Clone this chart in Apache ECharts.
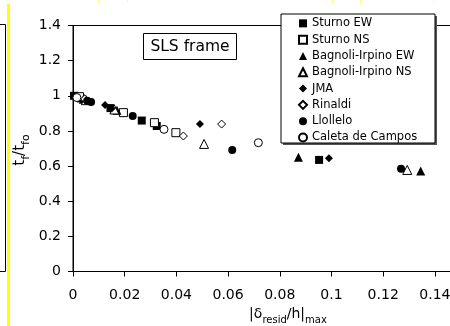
<!DOCTYPE html>
<html>
<head>
<meta charset="utf-8">
<script src="https://cdn.jsdelivr.net/npm/echarts@6/dist/echarts.min.js"></script>
<style>
  html, body { margin: 0; padding: 0; background: #fff; }
  #chart { width: 450px; height: 326px; }
</style>
</head>
<body>
<div id="chart"></div>
<script>
// values: [|delta_resid/h|max, tf/tfo]
var sturnoEW = [[0.0004, 1.0], [0.003, 0.985], [0.0145, 0.93], [0.0266, 0.859], [0.0324, 0.828], [0.0952, 0.635]];
var sturnoNS = [[0.0025, 0.995], [0.0195, 0.904], [0.0315, 0.847], [0.0398, 0.79]];
var bagnoliEW = [[0.004, 0.98], [0.017, 0.918], [0.0872, 0.65], [0.1345, 0.572]];
var bagnoliNS = [[0.005, 0.975], [0.016, 0.922], [0.0507, 0.726], [0.1293, 0.578]];
var jma = [[0.006, 0.97], [0.0124, 0.948], [0.015, 0.928], [0.0491, 0.839], [0.099, 0.644]];
var rinaldi = [[0.0045, 0.982], [0.0427, 0.771], [0.0575, 0.839]];
var llollelo = [[0.0055, 0.972], [0.007, 0.965], [0.0231, 0.885], [0.0616, 0.692], [0.1269, 0.585]];
var caleta = [[0.0015, 0.99], [0.0352, 0.809], [0.0717, 0.733]];

var seriesNames = ["Sturno EW", "Sturno NS", "Bagnoli-Irpino EW", "Bagnoli-Irpino NS", "JMA", "Rinaldi", "Llollelo", "Caleta de Campos"];

var chart = echarts.init(document.getElementById("chart"));

function pts(name, data, symbol, size, filled) {
  return {
    name: name,
    type: "scatter",
    data: data,
    symbol: symbol,
    symbolSize: size,
    itemStyle: filled
      ? { color: "#000", opacity: 1 }
      : { color: "#fff", borderColor: "#000", borderWidth: 1, opacity: 1 },
  };
}

var font = "DejaVu Sans";

var option = {
  animation: false,
  textStyle: { fontFamily: font },
  grid: {
    left: 73,
    top: 25.5,
    height: 246,
    width: 413.6, // plot runs past the right edge of the picture
    outerBoundsMode: "none",
    containLabel: false,
    show: true,
    borderColor: "#000",
    borderWidth: 1,
  },
  xAxis: {
    type: "value",
    min: 0,
    max: 0.16,
    interval: 0.02,
    axisLine: { lineStyle: { color: "#000", width: 1 } },
    axisTick: { show: true, length: 5, lineStyle: { color: "#000" } },
    axisLabel: { color: "#000", fontSize: 14, fontFamily: font, margin: 17 },
    splitLine: { show: false },
  },
  yAxis: {
    type: "value",
    min: 0,
    max: 1.4,
    interval: 0.2,
    axisLine: { show: true, lineStyle: { color: "#000", width: 1 } },
    axisTick: { show: true, length: 5, lineStyle: { color: "#000" } },
    axisLabel: { color: "#000", fontSize: 14, fontFamily: font, margin: 12 },
    splitLine: { show: false },
  },
  legend: {
    orient: "vertical",
    left: 298,
    top: 15.2,
    padding: 0,
    itemWidth: 8,
    itemHeight: 8,
    itemGap: 0,
    selectedMode: false,
    z: 6,
    data: seriesNames,
    textStyle: { color: "#000", fontSize: 11.5, fontFamily: font, lineHeight: 16.3 },
  },
  graphic: [
    // legend frame with shadow
    { type: "rect", z: 4, shape: { x: 283, y: 16, width: 154, height: 129 }, style: { fill: "#555" } },
    { type: "rect", z: 5, shape: { x: 281, y: 14, width: 154, height: 129 }, style: { fill: "#fff", stroke: "#000", lineWidth: 1 } },
    // SLS frame label
    { type: "rect", z: 5, shape: { x: 143.5, y: 33.5, width: 93, height: 26 }, style: { fill: "#fff", stroke: "#000", lineWidth: 1 } },
    { type: "text", z: 6, x: 190, y: 47, style: { text: "SLS frame", fontSize: 15.5, fontFamily: font, fill: "#000", align: "center", verticalAlign: "middle" } },
    // axis titles
    {
      type: "text", z: 6, x: 288, y: 316,
      style: {
        text: "{a||δ}{b|resid}{a|/h|}{b|max}",
        align: "center", verticalAlign: "middle", fill: "#000",
        rich: {
          a: { fontSize: 14, fontFamily: font, verticalAlign: "bottom", padding: [0, 0, 4, 0] },
          b: { fontSize: 10, fontFamily: font, verticalAlign: "bottom" },
        },
      },
    },
    {
      type: "text", z: 6, x: 22, y: 150, rotation: Math.PI / 2,
      style: {
        text: "{a|t}{b|f}{a|/t}{b|fo}",
        align: "center", verticalAlign: "middle", fill: "#000",
        rich: {
          a: { fontSize: 15, fontFamily: font, verticalAlign: "bottom", padding: [0, 0, 4, 0] },
          b: { fontSize: 11, fontFamily: font, verticalAlign: "bottom" },
        },
      },
    },
    // neighbouring panel remnants
    { type: "polyline", z: 6, shape: { points: [[0, 24.5], [5.5, 24.5], [5.5, 271.5], [0, 271.5]] }, style: { fill: null, stroke: "#000", lineWidth: 1 } },
    { type: "rect", z: 6, shape: { x: 7, y: 4, width: 3, height: 322 }, style: { fill: "#ffff00" } },
    { type: "rect", z: 6, shape: { x: 98, y: 0, width: 1, height: 3 }, style: { fill: "#ffff80" } },
    { type: "rect", z: 6, shape: { x: 127, y: 0, width: 1, height: 3 }, style: { fill: "#ffff80" } },
    { type: "rect", z: 6, shape: { x: 332, y: 0, width: 1, height: 3 }, style: { fill: "#ffff80" } },
    { type: "rect", z: 6, shape: { x: 360, y: 0, width: 1, height: 3 }, style: { fill: "#ffff80" } },
    { type: "rect", z: 6, shape: { x: 433, y: 0, width: 1, height: 3 }, style: { fill: "#ffff80" } },
  ],
  series: [
    pts(seriesNames[0], sturnoEW, "rect", 8, true),
    pts(seriesNames[1], sturnoNS, "rect", 8, false),
    pts(seriesNames[2], bagnoliEW, "triangle", 9, true),
    pts(seriesNames[3], bagnoliNS, "triangle", 9, false),
    pts(seriesNames[4], jma, "diamond", 8, true),
    pts(seriesNames[5], rinaldi, "diamond", 8, false),
    pts(seriesNames[6], llollelo, "circle", 8, true),
    pts(seriesNames[7], caleta, "circle", 8, false),
  ],
};

chart.setOption(option);
</script>
</body>
</html>
